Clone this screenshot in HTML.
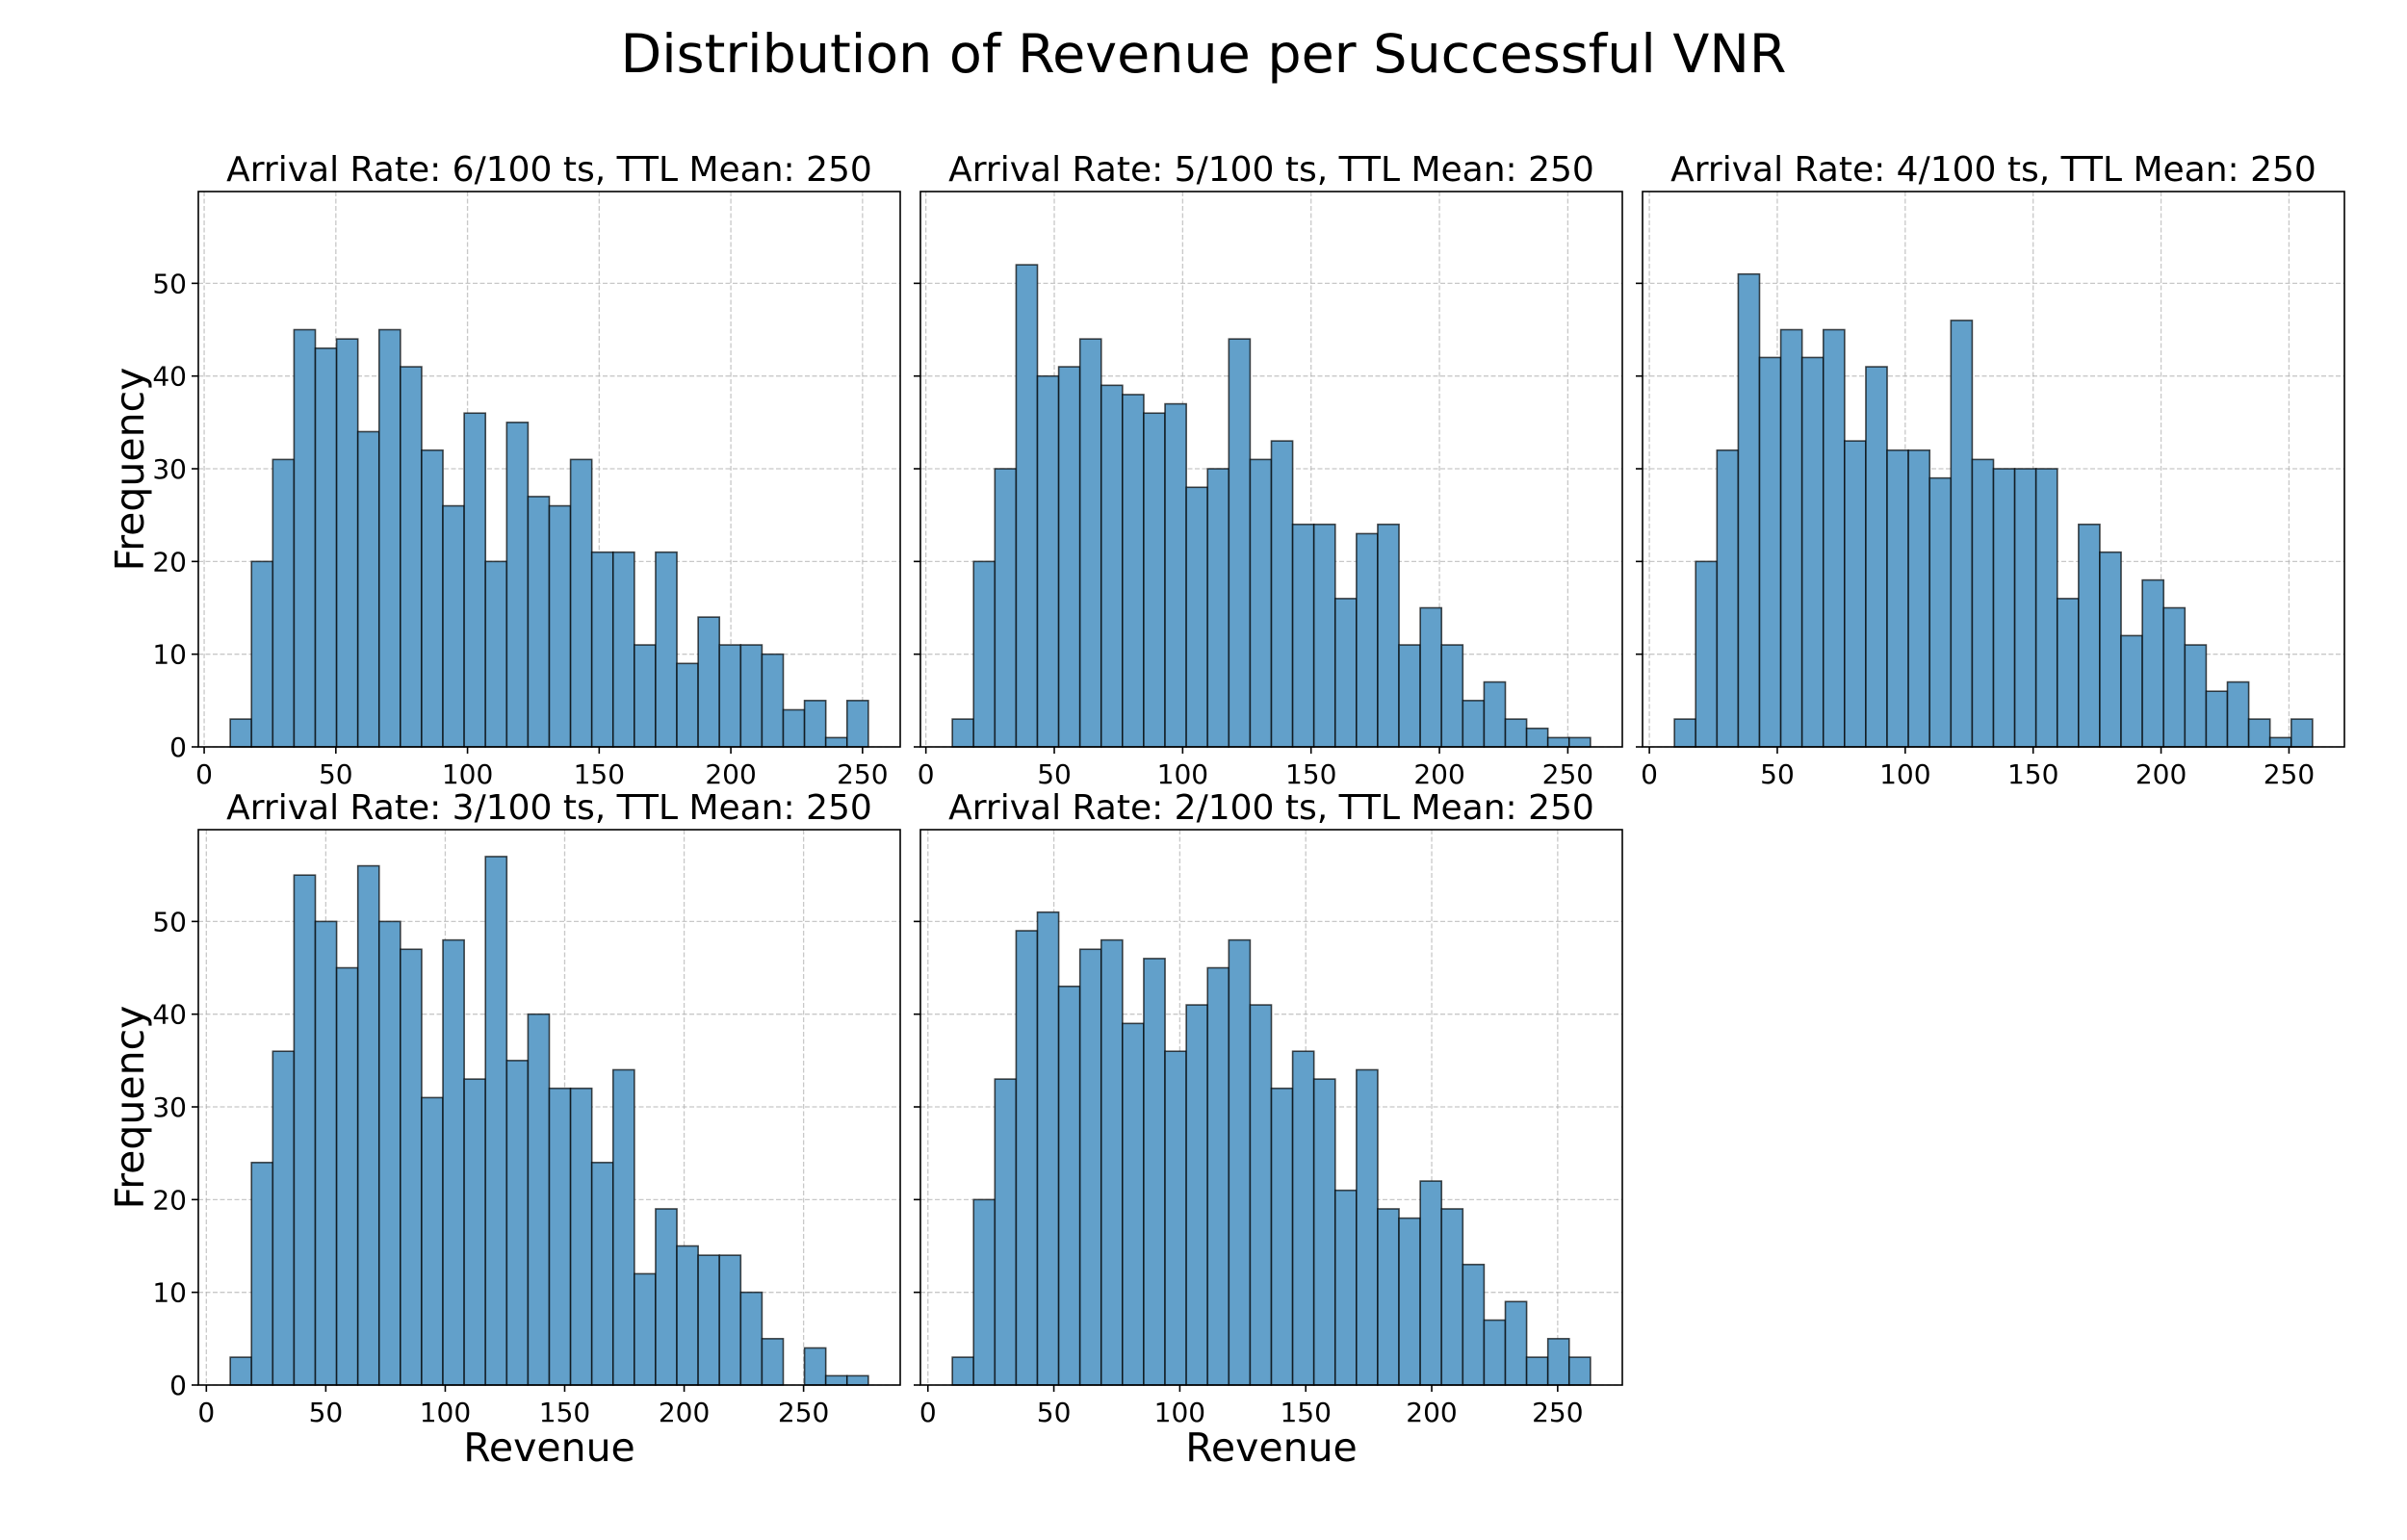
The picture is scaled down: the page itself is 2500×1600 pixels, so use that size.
<!DOCTYPE html>
<html><head><meta charset="utf-8"><title>Distribution of Revenue per Successful VNR</title>
<style>
html,body{margin:0;padding:0;background:#fff;}
svg{display:block;font-family:"DejaVu Sans","Liberation Sans",sans-serif;}
</style></head>
<body>
<svg id="chart" width="2500" height="1600" viewBox="0 0 2500 1600" xmlns="http://www.w3.org/2000/svg">
<text x="1250" y="75" text-anchor="middle" font-size="55.5" fill="#000">Distribution of Revenue per Successful VNR</text>
</svg>
<script>
// ---- data ----
const panelTitles = [
  "Arrival Rate: 6/100 ts, TTL Mean: 250",
  "Arrival Rate: 5/100 ts, TTL Mean: 250",
  "Arrival Rate: 4/100 ts, TTL Mean: 250",
  "Arrival Rate: 3/100 ts, TTL Mean: 250",
  "Arrival Rate: 2/100 ts, TTL Mean: 250"
];
const countsRate6 = [3,20,31,45,43,44,34,45,41,32,26,36,20,35,27,26,31,21,21,11,21,9,14,11,11,10,4,5,1,5];
const countsRate5 = [3,20,30,52,40,41,44,39,38,36,37,28,30,44,31,33,24,24,16,23,24,11,15,11,5,7,3,2,1,1];
const countsRate4 = [3,20,32,51,42,45,42,45,33,41,32,32,29,46,31,30,30,30,16,24,21,12,18,15,11,6,7,3,1,3];
const countsRate3 = [3,24,36,55,50,45,56,50,47,31,48,33,57,35,40,32,32,24,34,12,19,15,14,14,10,5,0,4,1,1];
const countsRate2 = [3,20,33,49,51,43,47,48,39,46,36,41,45,48,41,32,36,33,21,34,19,18,22,19,13,7,9,3,5,3];
const binMin = [9.9, 10.3, 9.8, 10.0, 9.7];
const binMax = [252.2, 258.8, 259.2, 277.1, 263.0];
const xTickValues = [0,50,100,150,200,250];
const yTickValues = [0,10,20,30,40,50];
const yMax = 59.9;

const allCounts = [countsRate6, countsRate5, countsRate4, countsRate3, countsRate2];
// layout
const axLeft = [206, 956, 1706, 206, 956];
const axTop = [199, 199, 199, 862, 862];
const axW = 729, axH = 577;

const NS = "http://www.w3.org/2000/svg";
const svg = document.getElementById("chart");
function mk(tag, attrs, parent) {
  const e = document.createElementNS(NS, tag);
  for (const k in attrs) e.setAttribute(k, attrs[k]);
  (parent || svg).appendChild(e);
  return e;
}

for (let p = 0; p < 5; p++) {
  const counts = allCounts[p];
  const lo = binMin[p], hi = binMax[p];
  const pad = (hi - lo) * 0.05;
  const xmin = lo - pad, xmax = hi + pad;
  const L = axLeft[p], T = axTop[p];
  const xs = v => L + (v - xmin) / (xmax - xmin) * axW;
  const ys = v => T + axH - v / yMax * axH;

  const g = mk("g", {});
  
  

  xTickValues.forEach(t => {
    const gl = mk("line", {x1: xs(t), x2: xs(t), y1: T, y2: T + axH, stroke: "#b0b0b0", "stroke-opacity": 0.7, "stroke-width": 1.3, "stroke-dasharray": "5,2.5"}, g);
    
    
  });
  yTickValues.forEach(t => {
    const gl = mk("line", {x1: L, x2: L + axW, y1: ys(t), y2: ys(t), stroke: "#b0b0b0", "stroke-opacity": 0.7, "stroke-width": 1.3, "stroke-dasharray": "5,2.5"}, g);
    
    
  });

  const bw = (hi - lo) / counts.length;
  counts.forEach((c, i) => {
    if (c <= 0) return;
    const x0 = xs(lo + i * bw), x1 = xs(lo + (i + 1) * bw);
    const r = mk("rect", {x: x0, y: ys(c), width: x1 - x0, height: ys(0) - ys(c), fill: "rgb(98,160,202)", stroke: "rgba(0,0,0,0.7)", "stroke-width": 1.6}, g);
    
    
  });

  const fr = mk("rect", {x: L, y: T, width: axW, height: axH, fill: "none", stroke: "#000", "stroke-width": 1.6}, g);
  
  

  xTickValues.forEach(t => {
    mk("line", {x1: xs(t), x2: xs(t), y1: T + axH, y2: T + axH + 7, stroke: "#000", "stroke-width": 1.6}, g);
    const tx = mk("text", {x: xs(t), y: T + axH + 38, "text-anchor": "middle", "font-size": 28, fill: "#000"}, g);
    tx.textContent = t;
    
    
  });
  yTickValues.forEach(t => {
    mk("line", {x1: L - 7, x2: L, y1: ys(t), y2: ys(t), stroke: "#000", "stroke-width": 1.6}, g);
    if (p === 0 || p === 3) {
      const ty = mk("text", {x: L - 12, y: ys(t) + 10, "text-anchor": "end", "font-size": 28, fill: "#000"}, g);
      ty.textContent = t;
      
      
    }
  });

  const tt = mk("text", {x: L + axW / 2, y: T - 11, "text-anchor": "middle", "font-size": 36, fill: "#000"}, g);
  tt.textContent = panelTitles[p];
  
  

  if (p === 0 || p === 3) {
    const yl = mk("text", {x: 0, y: 0, "text-anchor": "middle", "font-size": 41, fill: "#000", transform: "translate(149," + (T + axH / 2) + ") rotate(-90)"}, g);
    yl.textContent = "Frequency";
    
    
  }
  if (p >= 3) {
    const xl = mk("text", {x: L + axW / 2, y: T + axH + 79, "text-anchor": "middle", "font-size": 41, fill: "#000"}, g);
    xl.textContent = "Revenue";
    
    
  }
}
</script>
</body></html>
